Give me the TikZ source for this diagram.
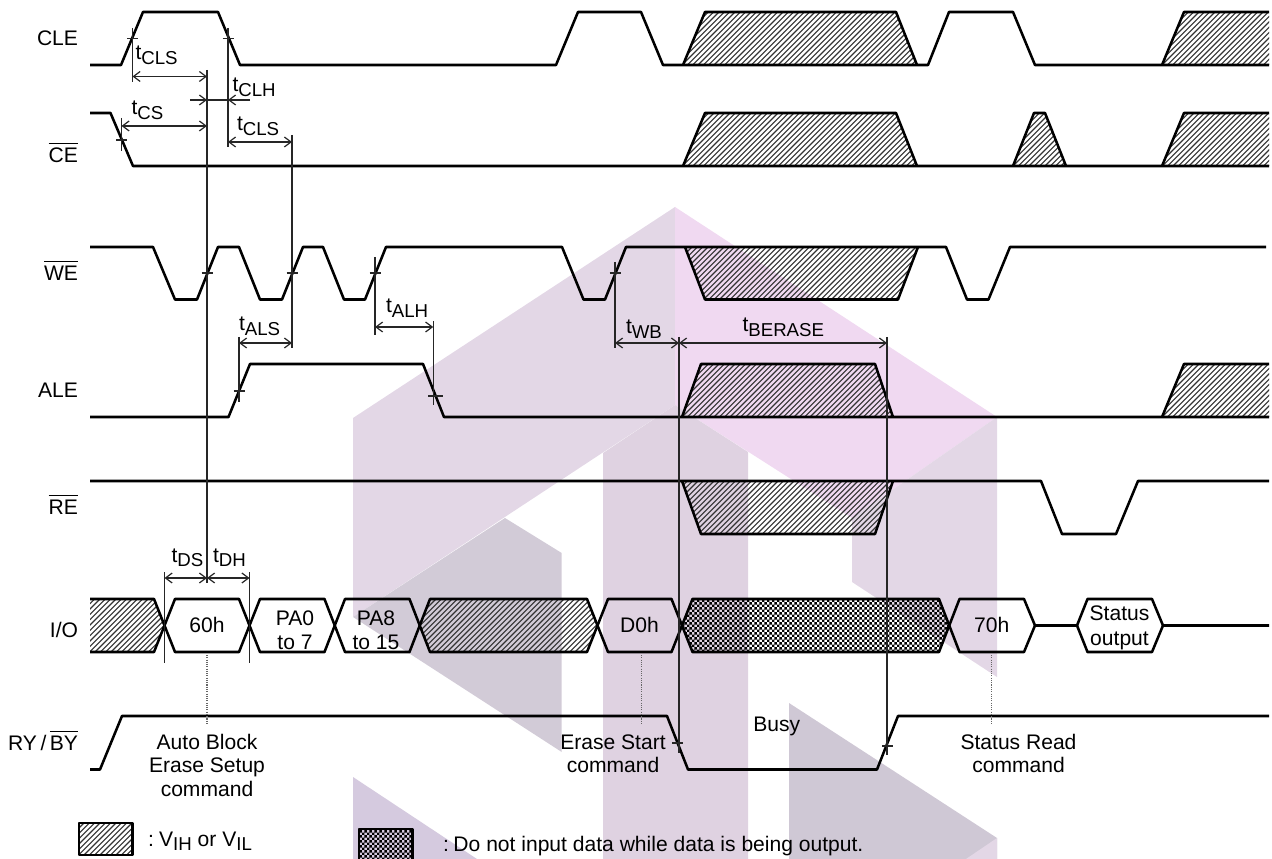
\documentclass[tikz,border=0pt]{standalone}
\usepackage{fontspec}
\setmainfont{Liberation Sans}
\usetikzlibrary{arrows.meta,patterns}
\pgfdeclarepatternformonly{hatchp}{\pgfqpoint{-1pt}{-1pt}}{\pgfqpoint{5pt}{5pt}}{\pgfqpoint{4pt}{4pt}}{%
  \pgfsetlinewidth{0.85pt}\pgfsetroundcap
  \pgfpathmoveto{\pgfqpoint{0pt}{0pt}}\pgfpathlineto{\pgfqpoint{4pt}{4pt}}\pgfusepath{stroke}}
\pgfdeclarepatternformonly{checkp}{\pgfqpoint{0pt}{0pt}}{\pgfqpoint{4pt}{4pt}}{\pgfqpoint{4pt}{4pt}}{%
  \pgfpathrectangle{\pgfqpoint{0pt}{0pt}}{\pgfqpoint{2pt}{2pt}}
  \pgfpathrectangle{\pgfqpoint{2pt}{2pt}}{\pgfqpoint{2pt}{2pt}}\pgfusepath{fill}}
\definecolor{wmauve}{HTML}{E3D7E6}
\definecolor{wpink}{HTML}{F0D9F1}
\definecolor{wgray}{HTML}{D2CBD7}
\definecolor{wpillar}{HTML}{DFD2E1}
\definecolor{wlow}{HTML}{D5CADF}
\definecolor{wright}{HTML}{CFC8D5}
\newcommand\tsub[1]{t\raisebox{-3.6pt}{\fontsize{14}{14}\selectfont #1}}
\newcommand\vsub[1]{V\raisebox{-3.2pt}{\fontsize{14}{14}\selectfont #1}}
\newcommand\ovl[1]{\leavevmode\vbox{\hrule height 0.8pt \kern 3.2pt\hbox{#1}}}
\tikzset{
  sig/.style={line width=1.9pt,line join=round,black},
  thinl/.style={line width=1pt,black!85},
  dim/.style={line width=0.9pt,black!85,{Straight Barb[length=5pt,width=7.5pt]}-{Straight Barb[length=5pt,width=7.5pt]}},
  dimend/.style={line width=0.9pt,black!85,-{Straight Barb[length=5pt,width=7.5pt]}},
  dots/.style={line width=0.8pt,black!60,dash pattern=on 0.8pt off 0.9pt},
  hatchr/.style={pattern=hatchp,pattern color=black!80},
  checkr/.style={pattern=checkp,pattern color=black},
  lab/.style={anchor=base,inner sep=0pt,outer sep=0pt,font=\fontsize{15.8}{19}\selectfont},
  siglab/.style={lab,anchor=base east},
  tlab/.style={lab,anchor=base west}
}
\newcommand\vmark[4]{\coordinate (#1a) at (#2,#3); \coordinate (#1b) at (#2,#4); \draw[thinl] (#1a) -- (#1b);}
\newcommand\tickmark[4]{\coordinate (#1a) at (#2-#4,#3); \coordinate (#1b) at (#2+#4,#3); \draw[thinl] (#1a) -- (#1b);}
\newcommand\dimarrow[4]{\coordinate (#1a) at (#2,#4); \coordinate (#1b) at (#3,#4); \draw[dim] (#1a) -- (#1b);}
\begin{document}
\begin{tikzpicture}[x=0.75pt,y=-0.75pt]
\useasboundingbox (0,0) rectangle (1272,859);
% watermark
\fill[wmauve] (353,418) -- (675,207) -- (675,405) -- (353,617) -- cycle;
\fill[wpink] (675,207) -- (997,417) -- (852,518) -- (675,405) -- cycle;
\fill[wpillar] (603,453) -- (675,405) -- (748,452) -- (748,859) -- (603,859) -- cycle;
\fill[wmauve] (852,518) -- (997,417) -- (997,677) -- (852,582) -- cycle;
\fill[wgray] (353,617) -- (505,518) -- (561.7,553) -- (561.7,752) -- cycle;
\fill[wlow] (353,777) -- (477,859) -- (353,859) -- cycle;
\fill[wright] (789,703) -- (997,838) -- (997,859) -- (789,859) -- cycle;
\fill[wmauve] (997,838) -- (997,859) -- (966,859) -- cycle;
% hatched fills
\fill[hatchr] (683,65) -- (705,12) -- (896,12) -- (917,65) -- cycle;
\fill[hatchr] (1162,65) -- (1184,12) -- (1269,12) -- (1269,65) -- cycle;
\fill[hatchr] (683,166) -- (705,113) -- (896,113) -- (917,166) -- cycle;
\fill[hatchr] (1013,166) -- (1034,113) -- (1045,113) -- (1066,166) -- cycle;
\fill[hatchr] (1162,166) -- (1184,113) -- (1269,113) -- (1269,166) -- cycle;
\fill[hatchr] (685,247) -- (918,247) -- (898,299.5) -- (705,299.5) -- cycle;
\fill[hatchr] (682,417) -- (701,364) -- (875,364) -- (893,417) -- cycle;
\fill[hatchr] (1162,417) -- (1184,364) -- (1269,364) -- (1269,417) -- cycle;
\fill[hatchr] (682,481) -- (701,534) -- (875,534) -- (893,481) -- cycle;
\fill[hatchr] (90,599) -- (154,599) -- (165,625.5) -- (154,652) -- (90,652) -- cycle;
\fill[hatchr] (420,625.5) -- (430,599) -- (587,599) -- (597,625.5) -- (587,652) -- (430,652) -- cycle;
\fill[checkr] (682,625.5) -- (692.5,599) -- (939,599) -- (950,625.5) -- (939,652) -- (692.5,652) -- cycle;
% CLE
\draw[sig] (90,65) -- (121,65) -- (143,12) -- (218,12) -- (240,65) -- (556,65) -- (578,12) -- (641,12) -- (663,65) -- (928,65) -- (949,12) -- (1013,12) -- (1035,65) -- (1269,65);
\draw[sig] (683,65) -- (705,12) -- (896,12) -- (917,65);
\draw[sig] (1162,65) -- (1184,12) -- (1269,12);
% CE
\draw[sig] (90,113) -- (110.5,113) -- (133,166) -- (1269,166);
\draw[sig] (683,166) -- (705,113) -- (896,113) -- (917,166);
\draw[sig] (1013,166) -- (1034,113) -- (1045,113) -- (1066,166);
\draw[sig] (1162,166) -- (1184,113) -- (1269,113);
% WE
\draw[sig] (90,247) -- (153,247) -- (175,299.5) -- (197,299.5) -- (218,247) -- (239,247) -- (260,299.5) -- (282,299.5) -- (303,247) -- (323,247) -- (344,299.5) -- (365,299.5) -- (386,247) -- (562,247) -- (583.5,299.5) -- (605,299.5) -- (626,247) -- (946,247) -- (967,299.5) -- (988.5,299.5) -- (1010,247) -- (1266,247);
\draw[sig] (685,247) -- (705,299.5) -- (898,299.5) -- (918,247);
% ALE
\draw[sig] (90,417) -- (228.5,417) -- (250,364) -- (423,364) -- (444,417) -- (1269,417);
\draw[sig] (682,417) -- (701,364) -- (875,364) -- (893,417);
\draw[sig] (1162,417) -- (1184,364) -- (1269,364);
% RE
\draw[sig] (90,481) -- (1041,481) -- (1062,534) -- (1116,534) -- (1138,481) -- (1269,481);
\draw[sig] (682,481) -- (701,534) -- (875,534) -- (893,481);
% IO
\draw[sig] (90,599) -- (154,599) -- (175,652) -- (239,652) -- (260,599) -- (324.5,599) -- (345,652) -- (409.5,652) -- (430,599) -- (587,599) -- (608,652) -- (671.5,652) -- (692.5,599) -- (939,599) -- (959.5,652) -- (1024,652) -- (1035,625.5) -- (1077,625.5) -- (1087.5,652) -- (1152,652) -- (1163,625.5) -- (1269,625.5);
\draw[sig] (90,652) -- (154,652) -- (175,599) -- (239,599) -- (260,652) -- (324.5,652) -- (345,599) -- (409.5,599) -- (430,652) -- (587,652) -- (608,599) -- (671.5,599) -- (692.5,652) -- (939,652) -- (959.5,599) -- (1024,599) -- (1035,625.5);
\draw[sig] (1077,625.5) -- (1087.5,599) -- (1152,599) -- (1163,625.5);
% RY/BY
\draw[sig] (90,769.5) -- (100,769.5) -- (122,716) -- (667,716) -- (688,769.5) -- (877,769.5) -- (898,716) -- (1269,716);
% verticals
\vmark{vA}{207}{70}{583}
\vmark{vB}{292}{135}{348}
\vmark{vC}{132.5}{28}{82}
\vmark{vD}{228}{28}{147}
\vmark{vE}{121.5}{118}{151}
\vmark{vF}{375}{257}{335}
\vmark{vG}{239}{337}{402}
\vmark{vH}{433.2}{321}{405}
\vmark{vI}{615}{262}{348}
\vmark{vJ}{679}{337}{753}
\vmark{vK}{887}{337}{755}
\vmark{vL}{164.5}{572}{663}
\vmark{vM}{249.5}{572}{663}
% ticks
\tickmark{tA}{132.5}{38.5}{5.5}
\tickmark{tB}{228}{38.5}{5.5}
\tickmark{tC}{121.5}{140}{5.5}
\tickmark{tD}{207}{273}{5.5}
\tickmark{tE}{292}{273}{5.5}
\tickmark{tF}{375}{273}{5.5}
\tickmark{tG}{615}{273}{5.5}
\tickmark{tH}{239}{391}{5.5}
\tickmark{tI}{435.5}{396}{7.5}
\tickmark{tJ}{677.5}{743}{5.5}
\tickmark{tK}{887.5}{746}{5.5}
% dimension arrows
\dimarrow{dA}{132.5}{207}{76.5}
\dimarrow{dB}{121.5}{207}{126}
\dimarrow{dC}{228}{292}{142}
\dimarrow{dD}{239}{292}{343}
\dimarrow{dE}{375}{433.2}{327}
\dimarrow{dF}{615}{679}{343}
\dimarrow{dG}{679}{887}{343}
\dimarrow{dH}{164.5}{207}{578}
\dimarrow{dI}{207}{249.5}{578}
\coordinate (hA) at (190,100); \coordinate (hB) at (207,100);
\coordinate (hC) at (250,100); \coordinate (hD) at (228,100);
\draw[dimend] (hA) -- (hB);
\draw[dimend] (hC) -- (hD);
\draw[thinl] (hB) -- (hD);
% dotted
\coordinate (pA) at (207,655); \coordinate (pB) at (207,725);
\coordinate (pC) at (641.5,655); \coordinate (pD) at (641.5,725);
\coordinate (pE) at (991.7,655); \coordinate (pF) at (991.7,725);
\draw[dots] (pA) -- (pB);
\draw[dots] (pC) -- (pD);
\draw[dots] (pE) -- (pF);
% signal labels
\node[siglab] (lCLE) at (78,46) {CLE};
\node[siglab] (lCE) at (78,163) {\ovl{CE}};
\node[siglab] (lWE) at (78,281) {\ovl{WE}};
\node[siglab] (lALE) at (78,398) {ALE};
\node[siglab] (lRE) at (78,514.5) {\ovl{RE}};
\node[siglab] (lIO) at (78,637.7) {I/O};
\node[siglab] (lRY) at (78,750.7) {RY\,/\,\ovl{BY}};
% timing labels
\node[tlab] (tCLSa) at (135.5,60) {\tsub{CLS}};
\node[tlab] (tCS) at (131.5,115) {\tsub{CS}};
\node[tlab] (tCLH) at (232.5,92) {\tsub{CLH}};
\node[tlab] (tCLSb) at (237,130.7) {\tsub{CLS}};
\node[tlab] (tALS) at (239,330.7) {\tsub{ALS}};
\node[tlab] (tALH) at (386,313) {\tsub{ALH}};
\node[tlab] (tWB) at (626,334) {\tsub{WB}};
\node[tlab] (tBER) at (742.5,331.7) {\tsub{BERASE}};
\node[tlab] (tDS) at (171.5,562) {\tsub{DS}};
\node[tlab] (tDH) at (213,562) {\tsub{DH}};
% IO labels
\node[lab] (n60) at (207,632.7) {60h};
\node[lab] (nPA0a) at (295,625) {PA0};
\node[lab] (nPA0b) at (295,649.3) {to 7};
\node[lab] (nPA8a) at (376,625) {PA8};
\node[lab] (nPA8b) at (376,649.3) {to 15};
\node[lab] (nD0) at (639.5,632.7) {D0h};
\node[lab] (n70) at (991.7,632.7) {70h};
\node[lab] (nSa) at (1119.5,620.7) {Status};
\node[lab] (nSb) at (1119.5,645) {output};
% captions
\node[lab] (cA1) at (207,749) {Auto Block};
\node[lab] (cA2) at (207,772.7) {Erase Setup};
\node[lab] (cA3) at (207,796.7) {command};
\node[lab] (cB1) at (613,749) {Erase Start};
\node[lab] (cB2) at (613,772.7) {command};
\node[lab] (cBusy) at (776.7,731.7) {Busy};
\node[lab] (cC1) at (1018.5,749) {Status Read};
\node[lab] (cC2) at (1018.5,772.7) {command};
% legend
\draw[sig,hatchr] (79,823) rectangle (132.5,855);
\node[tlab] (legA) at (148,846.7) {:\hspace{0.25em}\vsub{IH} or \vsub{IL}};
\draw[sig,checkr] (359,829) rectangle (412.5,862);
\node[tlab] (legB) at (443,851.7) {:\hspace{0.22em}Do not input data while data is being output.};
\end{tikzpicture}
\end{document}
